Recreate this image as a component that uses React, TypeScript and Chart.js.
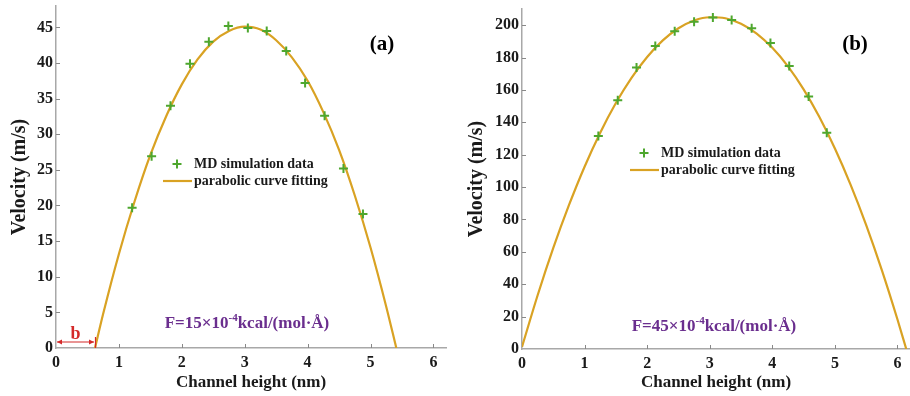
import React, { useEffect, useRef } from "react";
import { Chart, registerables } from "chart.js";

Chart.register(...registerables);

// ---------------- data ----------------
const xTicks = [0, 1, 2, 3, 4, 5, 6];
const leftYTicks = [0, 5, 10, 15, 20, 25, 30, 35, 40, 45];
const rightYTicks = [0, 20, 40, 60, 80, 100, 120, 140, 160, 180, 200];

// Panel (a): F = 15e-4 kcal/(mol·Å)
const leftMdX = [1.21, 1.52, 1.82, 2.13, 2.43, 2.74, 3.05, 3.35, 3.66, 3.96, 4.27, 4.57, 4.88];
const leftMdY = [19.7, 26.9, 34.0, 39.9, 43.0, 45.2, 44.9, 44.5, 41.7, 37.2, 32.6, 25.2, 18.8];
const leftFitX = [0.62, 0.75, 1.0, 1.25, 1.5, 1.75, 2.0, 2.25, 2.5, 2.75, 3.0, 3.25, 3.5, 3.75, 4.0, 4.25, 4.5, 4.75, 5.0, 5.25, 5.41];
const leftFitY = [0, 4.8, 13.2, 20.6, 27.1, 32.5, 37.0, 40.5, 43.0, 44.5, 45.1, 44.7, 43.2, 40.8, 37.5, 33.1, 27.8, 21.4, 14.1, 5.8, 0];
const slipLength = 0.62; // "b"

// Panel (b): F = 45e-4 kcal/(mol·Å)
const rightMdX = [1.22, 1.53, 1.83, 2.13, 2.44, 2.75, 3.05, 3.35, 3.67, 3.97, 4.27, 4.58, 4.87];
const rightMdY = [131.5, 153.7, 173.8, 187.1, 196.2, 202.2, 204.7, 203.2, 198.1, 189.0, 174.8, 156.0, 133.6];
const rightFitX = [0, 0.25, 0.5, 0.75, 1.0, 1.25, 1.5, 1.75, 2.0, 2.25, 2.5, 2.75, 3.0, 3.25, 3.5, 3.75, 4.0, 4.25, 4.5, 4.75, 5.0, 5.25, 5.5, 5.75, 6.0, 6.14];
const rightFitY = [1.3, 33.2, 62.4, 88.8, 112.6, 133.6, 151.9, 167.5, 180.4, 190.6, 198.1, 202.9, 204.9, 204.3, 200.9, 194.8, 186.0, 174.6, 160.4, 143.4, 123.8, 101.5, 76.5, 48.7, 18.2, 0];

const legendLabels = ["MD simulation data", "parabolic curve fitting"];
const xTitle = "Channel height (nm)";
const yTitle = "Velocity (m/s)";

// ---------------- styles ----------------
const FONT = '"Liberation Serif", "Times New Roman", serif';
const AXIS = "#a8a8a8";
const TEXT = "#1a1a1a";
const GREEN = "#4ea72e";
const GOLD = "#d9a223";
const PURPLE = "#6a2e8e";
const RED = "#d42a2a";

type Spec = {
  left: number;
  mdX: number[];
  mdY: number[];
  fitX: number[];
  fitY: number[];
  yTicks: number[];
  yMax: number;
  yAxisWidth: number;
  xAxisHeight: number;
  padTop: number;
  padRight: number;
  yTitlePad: number;
  tag: string;
  tagPos: [number, number];
  force: string;
  forcePos: [number, number];
  legendPos: [number, number];
  slip?: number;
};

const panels: Spec[] = [
  {
    left: 0,
    mdX: leftMdX,
    mdY: leftMdY,
    fitX: leftFitX,
    fitY: leftFitY,
    yTicks: leftYTicks,
    yMax: 48,
    yAxisWidth: 56,
    xAxisHeight: 48,
    padTop: 6,
    padRight: 9,
    yTitlePad: 8,
    tag: "(a)",
    tagPos: [382, 45],
    force: "15",
    forcePos: [247, 324],
    legendPos: [177, 164],
    slip: slipLength,
  },
  {
    left: 455,
    mdX: rightMdX,
    mdY: rightMdY,
    fitX: rightFitX,
    fitY: rightFitY,
    yTicks: rightYTicks,
    yMax: 210,
    yAxisWidth: 67,
    xAxisHeight: 47,
    padTop: 9,
    padRight: 0,
    yTitlePad: 10,
    tag: "(b)",
    tagPos: [400, 45],
    force: "45",
    forcePos: [259, 327],
    legendPos: [189, 153],
  },
];

function drawPlus(ctx: CanvasRenderingContext2D, x: number, y: number, r: number) {
  ctx.beginPath();
  ctx.moveTo(x - r, y);
  ctx.lineTo(x + r, y);
  ctx.moveTo(x, y - r);
  ctx.lineTo(x, y + r);
  ctx.stroke();
}

function makeDecor(p: Spec) {
  return {
    id: "decor",
    afterDraw(chart: any) {
      const ctx: CanvasRenderingContext2D = chart.ctx;
      const xs = chart.scales.x;
      const ys = chart.scales.y;
      ctx.save();
      // inward tick marks
      ctx.strokeStyle = "#888";
      ctx.lineWidth = 1;
      xs.ticks.forEach((t: any) => {
        if (t.value === 0) return;
        const px = Math.round(xs.getPixelForValue(t.value)) + 0.5;
        ctx.beginPath();
        ctx.moveTo(px, ys.bottom);
        ctx.lineTo(px, ys.bottom - 4);
        ctx.stroke();
      });
      ys.ticks.forEach((t: any) => {
        if (t.value === 0) return;
        const py = Math.round(ys.getPixelForValue(t.value)) + 0.5;
        ctx.beginPath();
        ctx.moveTo(xs.left, py);
        ctx.lineTo(xs.left + 4, py);
        ctx.stroke();
      });

      // legend
      const [lx, ly] = p.legendPos;
      ctx.strokeStyle = GREEN;
      ctx.lineWidth = 2;
      drawPlus(ctx, lx, ly, 4.5);
      ctx.strokeStyle = GOLD;
      ctx.lineWidth = 2.2;
      ctx.beginPath();
      ctx.moveTo(lx - 14, ly + 17);
      ctx.lineTo(lx + 15, ly + 17);
      ctx.stroke();
      ctx.fillStyle = TEXT;
      ctx.font = `bold 14px ${FONT}`;
      ctx.textAlign = "left";
      ctx.textBaseline = "middle";
      ctx.fillText(legendLabels[0], lx + 17, ly);
      ctx.fillText(legendLabels[1], lx + 17, ly + 17);

      // panel tag
      ctx.font = `bold 21px ${FONT}`;
      ctx.textAlign = "center";
      ctx.fillStyle = "#000";
      ctx.fillText(p.tag, p.tagPos[0], p.tagPos[1]);

      // force annotation with superscript
      ctx.fillStyle = PURPLE;
      const main1 = `F=${p.force}×10`;
      const sup = "-4";
      const main2 = "kcal/(mol·Å)";
      ctx.font = `bold 17px ${FONT}`;
      const w1 = ctx.measureText(main1).width;
      const w3 = ctx.measureText(main2).width;
      ctx.font = `bold 11px ${FONT}`;
      const w2 = ctx.measureText(sup).width;
      const total = w1 + w2 + w3;
      const x0 = p.forcePos[0] - total / 2;
      const y0 = p.forcePos[1];
      ctx.textAlign = "left";
      ctx.font = `bold 17px ${FONT}`;
      ctx.fillText(main1, x0, y0);
      ctx.font = `bold 11px ${FONT}`;
      ctx.fillText(sup, x0 + w1, y0 - 6);
      ctx.font = `bold 17px ${FONT}`;
      ctx.fillText(main2, x0 + w1 + w2, y0);

      // slip length "b"
      if (p.slip !== undefined) {
        const xa = xs.getPixelForValue(0);
        const xb = xs.getPixelForValue(p.slip);
        const yb = ys.bottom - 6;
        ctx.strokeStyle = RED;
        ctx.fillStyle = RED;
        ctx.lineWidth = 1.2;
        ctx.beginPath();
        ctx.moveTo(xa + 1, yb);
        ctx.lineTo(xb - 1, yb);
        ctx.stroke();
        ctx.beginPath();
        ctx.moveTo(xa + 1, yb);
        ctx.lineTo(xa + 6, yb - 2.5);
        ctx.lineTo(xa + 6, yb + 2.5);
        ctx.closePath();
        ctx.fill();
        ctx.beginPath();
        ctx.moveTo(xb - 1, yb);
        ctx.lineTo(xb - 6, yb - 2.5);
        ctx.lineTo(xb - 6, yb + 2.5);
        ctx.closePath();
        ctx.fill();
        ctx.beginPath();
        ctx.moveTo(xb + 0.5, ys.bottom - 11);
        ctx.lineTo(xb + 0.5, ys.bottom);
        ctx.stroke();
        ctx.font = `bold 18px ${FONT}`;
        ctx.textAlign = "center";
        ctx.textBaseline = "middle";
        ctx.fillText("b", (xa + xb) / 2, yb - 8);
      }
      ctx.restore();
    },
  };
}

function Panel({ p }: { p: Spec }) {
  const ref = useRef<HTMLCanvasElement | null>(null);
  useEffect(() => {
    if (!ref.current) return;
    const fit = p.fitX.map((x, i) => ({ x, y: p.fitY[i] }));
    const md = p.mdX.map((x, i) => ({ x, y: p.mdY[i] }));
    const chart = new Chart(ref.current, {
      type: "scatter",
      data: {
        datasets: [
          {
            label: legendLabels[1],
            data: fit,
            showLine: true,
            borderColor: GOLD,
            backgroundColor: GOLD,
            borderWidth: 2.2,
            pointRadius: 0,
            cubicInterpolationMode: "monotone",
            order: 2,
          } as any,
          {
            label: legendLabels[0],
            data: md,
            pointStyle: "cross",
            pointRadius: 4.5,
            borderColor: GREEN,
            backgroundColor: GREEN,
            pointBorderWidth: 2,
            borderWidth: 2,
            order: 1,
          } as any,
        ],
      },
      options: {
        animation: false,
        responsive: false,
        layout: {
          autoPadding: false,
          padding: { left: 0, top: p.padTop, right: p.padRight, bottom: 0 },
        },
        plugins: { legend: { display: false }, tooltip: { enabled: false } },
        scales: {
          x: {
            type: "linear",
            min: 0,
            max: 6.2,
            afterBuildTicks: (s: any) => {
              s.ticks = xTicks.map((v) => ({ value: v }));
            },
            afterFit: (s: any) => {
              s.height = p.xAxisHeight;
              s.paddingLeft = 0;
              s.paddingRight = 0;
            },
            grid: { display: false, drawTicks: false },
            border: { display: true, color: AXIS, width: 1.5 },
            ticks: {
              color: TEXT,
              font: { family: FONT, size: 16, weight: "bold" },
              padding: 5,
              maxRotation: 0,
              autoSkip: false,
            },
            title: {
              display: true,
              text: xTitle,
              color: TEXT,
              font: { family: FONT, size: 17, weight: "bold" },
              padding: { top: 3, bottom: 3 },
            },
          },
          y: {
            type: "linear",
            min: 0,
            max: p.yMax,
            afterBuildTicks: (s: any) => {
              s.ticks = p.yTicks.map((v) => ({ value: v }));
            },
            afterFit: (s: any) => {
              s.width = p.yAxisWidth;
              s.paddingTop = 0;
              s.paddingBottom = 0;
            },
            grid: { display: false, drawTicks: false },
            border: { display: true, color: AXIS, width: 1.5 },
            ticks: {
              color: TEXT,
              font: { family: FONT, size: 16, weight: "bold" },
              padding: 3,
              autoSkip: false,
            },
            title: {
              display: true,
              text: yTitle,
              color: TEXT,
              font: { family: FONT, size: 20, weight: "bold" },
              padding: { top: p.yTitlePad, bottom: p.yTitlePad },
            },
          },
        },
      },
      plugins: [makeDecor(p)],
    });
    return () => chart.destroy();
  }, [p]);
  return (
    <canvas
      ref={ref}
      width={455}
      height={396}
      style={{ position: "absolute", left: p.left, top: 0, width: 455, height: 396 }}
    />
  );
}

export default function App() {
  return (
    <div
      style={{
        position: "fixed",
        left: 0,
        top: 0,
        width: 910,
        height: 396,
        background: "#fff",
        overflow: "hidden",
      }}
    >
      {panels.map((p) => (
        <Panel key={p.tag} p={p} />
      ))}
    </div>
  );
}
